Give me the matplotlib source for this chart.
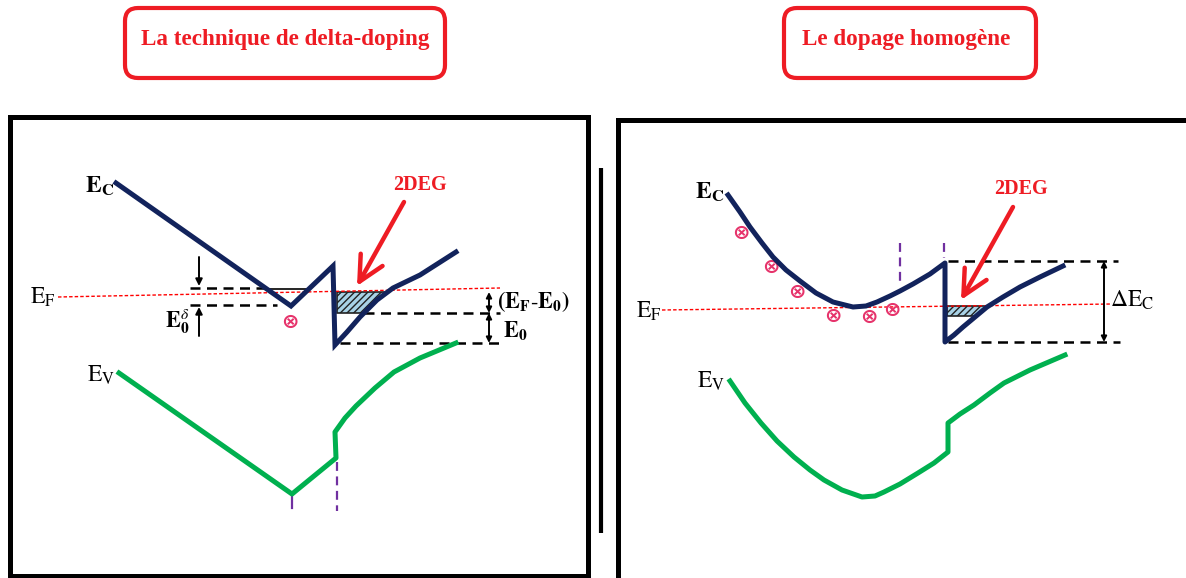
import numpy as np
import matplotlib
matplotlib.use("Agg")
import matplotlib.pyplot as plt
from matplotlib.patches import FancyBboxPatch, Polygon, Rectangle

plt.rcParams["mathtext.fontset"] = "stix"
plt.rcParams["hatch.linewidth"] = 1.0

# ---- band-diagram data (pixel-space drawing units, y grows downward) ----
# delta-doping structure
dd_ec_x = [116, 291, 333, 335, 347, 360, 377, 393, 420, 456]
dd_ec_y = [183, 306, 266, 345, 332, 317, 300, 288, 275, 252]
dd_ev_x = [119, 292, 336, 335, 345, 356, 375, 394, 420, 456]
dd_ev_y = [373, 494, 458, 432, 418, 406, 388, 372, 358, 343]
dd_ef_x = [58, 500]
dd_ef_y = [297, 288]
dd_levels = {"E0_delta_top": 288, "E0_delta_bot": 305, "EF_2deg": 292, "E0": 313, "Ec_min": 343}
dd_donors = [(290, 322)]

# homogeneous doping structure
hd_ec_x = [728, 740, 750, 762, 773, 786, 800, 816, 833, 853, 866, 877, 890, 900, 913, 930, 945,
           945, 954, 963, 975, 987, 1003, 1020, 1040, 1063]
hd_ec_y = [195, 212, 227, 243, 257, 270, 281, 293, 302, 307, 306, 302, 296, 291, 284, 274, 263,
           342, 335, 327, 317, 307, 297, 287, 277, 266]
hd_ev_x = [730, 745, 761, 777, 794, 810, 824, 842, 862, 875, 884, 900, 918, 934, 948,
           948, 960, 974, 990, 1004, 1030, 1065]
hd_ev_y = [381, 403, 423, 441, 457, 470, 480, 490, 497, 496, 492, 484, 473, 463, 452,
           423, 414, 405, 393, 383, 370, 355]
hd_ef_x = [662, 1112]
hd_ef_y = [310, 304]
hd_levels = {"Ec_top": 261, "EF_2deg": 306, "well_bot": 316, "Ec_min": 342}
hd_donors = [(741, 233), (771, 267), (797, 292), (833, 316), (869, 317), (892, 310)]

titles = ["La technique de delta-doping", "Le dopage homogène"]

NAVY = "#12235c"
GREEN = "#00b04f"
RED = "#ee1c24"
PINK = "#e6336b"
PURPLE = "#7030a0"

fig = plt.figure(figsize=(11.86, 5.78), dpi=100)
ax = fig.add_axes([0, 0, 1, 1])
ax.set_xlim(0, 1186)
ax.set_ylim(578, 0)
ax.axis("off")

serif = "Liberation Serif"
band_lw = 3.6
dash = (0, (4, 2.6))


def x_on_branch(xs, ys, y):
    """x position where a monotonic curve branch reaches level y."""
    xs = np.asarray(xs, float)
    ys = np.asarray(ys, float)
    order = np.argsort(ys)
    return float(np.interp(y, ys[order], xs[order]))


# ---- title boxes ----
for (x0, y0, w, h), title, cx in [((125, 8, 320, 70), titles[0], 285),
                                  ((784, 8, 252, 70), titles[1], 906)]:
    ax.add_patch(FancyBboxPatch((x0, y0), w, h,
                                boxstyle="round,pad=0,rounding_size=13",
                                fc="white", ec=RED, lw=3.0))
    ax.text(cx, 40, title, color=RED, fontsize=16.7, fontweight="bold",
            family=serif, ha="center", va="center")

# ---- frames ----
ax.add_patch(Rectangle((10, 116.5), 577.5, 459.5, fill=False, ec="black", lw=3.6))
ax.plot([600.5, 600.5], [168, 533], color="black", lw=3.0, solid_capstyle="butt")
ax.plot([617.5, 617.5, 1186], [578, 120, 120], color="black", lw=3.6,
        solid_joinstyle="miter")

# =================== delta-doping panel ===================
# 2DEG filled region (between EF and E0 inside triangular well)
rise_x = dd_ec_x[3:]
rise_y = dd_ec_y[3:]
top = dd_levels["EF_2deg"]
bot = dd_levels["E0"]
x_top = x_on_branch(rise_x, rise_y, top)
x_bot = x_on_branch(rise_x, rise_y, bot)
seg = [(x, y) for x, y in zip(rise_x, rise_y) if top < y < bot]
poly = [(337, top), (x_top, top)] + seg[::-1] + [(x_bot, bot), (337, bot)]
ax.add_patch(Polygon(poly, closed=True, fc="#a8d2e6", ec="#222222", lw=1.2,
                     hatch="/////", zorder=2))

# dashed reference levels
ax.plot([190, 270], [dd_levels["E0_delta_top"]] * 2, color="black", lw=1.8, linestyle=dash)
ax.plot([190, 277], [dd_levels["E0_delta_bot"]] * 2, color="black", lw=1.8, linestyle=dash)
xl = x_on_branch(dd_ec_x[:2], dd_ec_y[:2], 289)
xr = x_on_branch(dd_ec_x[1:3], dd_ec_y[1:3], 289)
ax.plot([xl, xr], [289, 289], color="black", lw=1.2)
ax.plot([x_bot, 500], [bot] * 2, color="black", lw=1.8, linestyle=dash)
ax.plot([340, 500], [dd_levels["Ec_min"]] * 2, color="black", lw=1.8, linestyle=dash)

# Fermi level
ax.plot(dd_ef_x, dd_ef_y, color="red", lw=1.0, linestyle=(0, (2.5, 1.5)), zorder=3)

# bands
ax.plot(dd_ec_x, dd_ec_y, color=NAVY, lw=band_lw, solid_joinstyle="miter", zorder=4)
ax.plot(dd_ev_x, dd_ev_y, color=GREEN, lw=band_lw, solid_joinstyle="round", zorder=4)

# interface markers
ax.plot([292, 292], [497, 508], color=PURPLE, lw=1.6)
ax.plot([337, 337], [462, 511], color=PURPLE, lw=1.6, linestyle=(0, (4, 2.5)))

# arrows
arr = dict(arrowstyle="-|>", color="black", lw=1.4, mutation_scale=10, shrinkA=0, shrinkB=0)
ax.annotate("", xy=(199, 286), xytext=(199, 257), arrowprops=arr)
ax.annotate("", xy=(199, 307), xytext=(199, 336), arrowprops=arr)
darr = dict(arrowstyle="<|-|>", color="black", lw=1.4, mutation_scale=8, shrinkA=0, shrinkB=0)
ax.annotate("", xy=(489, 292), xytext=(489, 313), arrowprops=darr)
ax.annotate("", xy=(489, 313), xytext=(489, 343), arrowprops=darr)
rarr = dict(arrowstyle="->,head_length=0.9,head_width=0.45", color=RED, lw=3.2,
            mutation_scale=20, shrinkA=0, shrinkB=0)
ax.annotate("", xy=(357, 286), xytext=(404, 202), arrowprops=rarr)

# donors
for x, y in dd_donors:
    ax.text(x, y, "⊗", color=PINK, fontsize=15, fontweight="bold", ha="center",
            va="center", family="DejaVu Sans")

# labels
ax.text(114, 186, r"$\mathbf{E}_{\mathbf{C}}$", fontsize=17, ha="right", va="center")
ax.text(56, 297, r"$\mathrm{E}_{\mathrm{F}}$", fontsize=17, ha="right", va="center")
ax.text(115, 375, r"$\mathrm{E}_{\mathrm{V}}$", fontsize=17, ha="right", va="center")
ax.text(177, 322, r"$\mathbf{E}_{\mathbf{0}}^{\delta}$", fontsize=16, ha="center", va="center")
ax.text(497, 302, r"$\mathbf{(E}_{\mathbf{F}}\mathbf{\text{-}E}_{\mathbf{0}}\mathbf{)}$",
        fontsize=16, ha="left", va="center")
ax.text(503, 331, r"$\mathbf{E}_{\mathbf{0}}$", fontsize=16, ha="left", va="center")
ax.text(420, 185, "2DEG", color=RED, fontsize=14.5, fontweight="bold", family=serif,
        ha="center", va="center")

# =================== homogeneous doping panel ===================
rise_x = hd_ec_x[17:]
rise_y = hd_ec_y[17:]
top = hd_levels["EF_2deg"]
bot = hd_levels["well_bot"]
x_top = x_on_branch(rise_x, rise_y, top)
x_bot = x_on_branch(rise_x, rise_y, bot)
seg = [(x, y) for x, y in zip(rise_x, rise_y) if top < y < bot]
poly = [(947, top), (x_top, top)] + seg[::-1] + [(x_bot, bot), (947, bot)]
ax.add_patch(Polygon(poly, closed=True, fc="#a8d2e6", ec="#222222", lw=1.2,
                     hatch="/////", zorder=2))

ax.plot([948, 1118], [hd_levels["Ec_top"]] * 2, color="black", lw=1.8, linestyle=dash)
ax.plot([948, 1120], [hd_levels["Ec_min"]] * 2, color="black", lw=1.8, linestyle=dash)

ax.plot(hd_ef_x, hd_ef_y, color="red", lw=1.0, linestyle=(0, (2.5, 1.5)), zorder=3)

ax.plot(hd_ec_x, hd_ec_y, color=NAVY, lw=band_lw, solid_joinstyle="round", zorder=4)
ax.plot(hd_ev_x, hd_ev_y, color=GREEN, lw=band_lw, solid_joinstyle="round", zorder=4)

ax.plot([900, 900], [243, 285], color=PURPLE, lw=1.6, linestyle=(0, (4, 2.5)))
ax.plot([944, 944], [243, 258], color=PURPLE, lw=1.6, linestyle=(0, (4, 2.5)))

ax.annotate("", xy=(1104, 261), xytext=(1104, 342), arrowprops=darr)
ax.annotate("", xy=(961, 300), xytext=(1013, 207), arrowprops=rarr)

for x, y in hd_donors:
    ax.text(x, y, "⊗", color=PINK, fontsize=15, fontweight="bold", ha="center",
            va="center", family="DejaVu Sans")

ax.text(724, 192, r"$\mathbf{E}_{\mathbf{C}}$", fontsize=17, ha="right", va="center")
ax.text(662, 311, r"$\mathrm{E}_{\mathrm{F}}$", fontsize=17, ha="right", va="center")
ax.text(725, 381, r"$\mathrm{E}_{\mathrm{V}}$", fontsize=17, ha="right", va="center")
ax.text(1110, 300, r"$\Delta\mathrm{E}_{\mathrm{C}}$", fontsize=17, ha="left", va="center")
ax.text(1021, 189, "2DEG", color=RED, fontsize=14.5, fontweight="bold", family=serif,
        ha="center", va="center")

fig.savefig("out.png", dpi=100)
